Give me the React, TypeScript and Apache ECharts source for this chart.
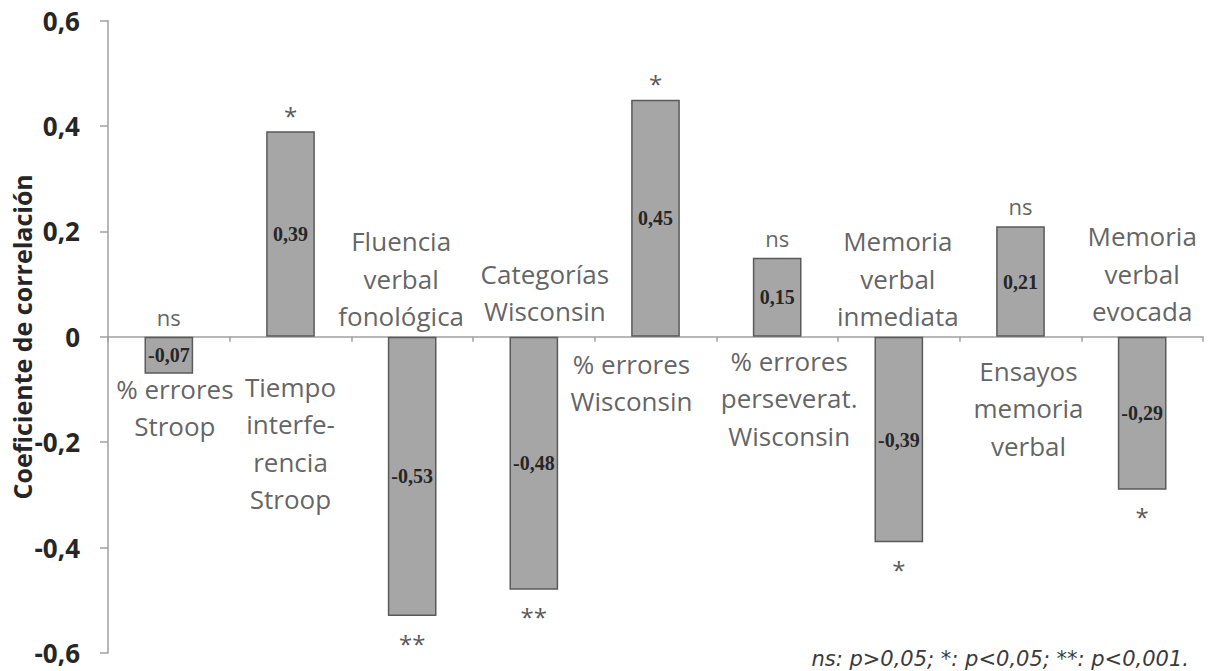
import React, { useEffect, useRef } from "react";
import * as echarts from "echarts";

const categories = [
  "% errores\nStroop",
  "Tiempo\ninterfe-\nrencia\nStroop",
  "Fluencia\nverbal\nfonológica",
  "Categorías\nWisconsin",
  "% errores\nWisconsin",
  "% errores\nperseverat.\nWisconsin",
  "Memoria\nverbal\ninmediata",
  "Ensayos\nmemoria\nverbal",
  "Memoria\nverbal\nevocada",
];
const correlations = [-0.07, 0.39, -0.53, -0.48, 0.45, 0.15, -0.39, 0.21, -0.29];
const significance = ["ns", "*", "**", "**", "*", "ns", "*", "ns", "*"];
const yTicks = [-0.6, -0.4, -0.2, 0, 0.2, 0.4, 0.6];
const footnote = "ns: p>0,05; *: p<0,05; **: p<0,001.";
const yAxisTitle = "Coeficiente de correlación";

// layout of the category captions (above / below the zero line)
const captionSide = ["below", "below", "above", "above", "below", "below", "above", "below", "above"];
const captionDistance = [33, 31, 2, 7, 8, 5, 2, 15, 7];
const captionShiftX = [6, 0, -11, 11, -24, 12, -1, 8, 0];

const fmt = (v: number) => (v === 0 ? "0" : v.toFixed(2).replace(".", ","));
const fmtTick = (v: number) => (Math.abs(v) < 1e-9 ? "0" : v.toFixed(1).replace(".", ","));

export default function App() {
  const ref = useRef<HTMLDivElement>(null);
  useEffect(() => {
    if (!ref.current) return;
    const chart = echarts.init(ref.current, null, { renderer: "svg" });
    const textColor = "#3a3a3a";
    const sans = "'Open Sans', Lato, sans-serif";

    const captionData = categories.map((c, i) => ({
      value: [i, 0],
      label: {
        show: true,
        formatter: c,
        position: captionSide[i] === "above" ? "top" : "bottom",
        distance: captionDistance[i],
        offset: [captionShiftX[i], 0],
      },
    }));

    const markerData = correlations.map((v, i) => {
      const sig = significance[i];
      const anchor = v < 0 && sig === "ns" ? 0 : v;
      const up = anchor >= 0;
      const isStar = sig !== "ns";
      return {
        value: [i, anchor],
        label: {
          show: true,
          formatter: sig,
          position: up ? "top" : "bottom",
          distance: isStar ? (up ? 4 : 15) : 9,
          fontSize: isStar ? 24 : 22,
          color: isStar ? "#2a2a2a" : textColor,
        },
      };
    });

    chart.setOption({
      animation: false,
      backgroundColor: "#ffffff",
      grid: { left: 108, right: 11, top: 20.7, bottom: 18, containLabel: false, outerBoundsMode: "none" },
      xAxis: {
        type: "category",
        data: categories,
        boundaryGap: true,
        axisLine: { show: true, onZero: true, lineStyle: { color: "#a0a0a0", width: 1.5 } },
        axisTick: { show: true, length: 5, alignWithLabel: false, lineStyle: { color: "#a0a0a0", width: 1.5 } },
        axisLabel: { show: false },
        splitLine: { show: false },
      },
      yAxis: {
        type: "value",
        min: yTicks[0],
        max: yTicks[yTicks.length - 1],
        interval: 0.2,
        name: yAxisTitle,
        nameLocation: "middle",
        nameRotate: 90,
        nameGap: 74,
        nameMoveOverlap: false,
        nameTextStyle: { fontFamily: sans, fontWeight: "bold", fontSize: 25, color: "#262626" },
        axisLine: { show: true, lineStyle: { color: "#a0a0a0", width: 1.5 } },
        axisTick: { show: true, length: 8, lineStyle: { color: "#a0a0a0", width: 1.5 } },
        splitLine: { show: false },
        axisLabel: {
          formatter: fmtTick,
          margin: 28,
          fontFamily: sans,
          fontWeight: "bold",
          fontSize: 26,
          color: "#262626",
        },
      },
      series: [
        {
          type: "bar",
          data: correlations,
          barWidth: "40%",
          itemStyle: { color: "#a6a6a6", borderColor: "#5a5a5a", borderWidth: 1.5 },
          label: {
            show: true,
            position: "inside",
            formatter: (p: any) => fmt(p.value),
            fontFamily: "'Liberation Serif', serif",
            fontWeight: "bold",
            fontSize: 20,
            color: "#262626",
          },
          z: 2,
        },
        {
          type: "scatter",
          data: captionData,
          symbolSize: 0,
          silent: true,
          label: {
            fontFamily: sans,
            fontSize: 26,
            lineHeight: 37.5,
            color: textColor,
            align: "center",
          },
          z: 3,
        },
        {
          type: "scatter",
          data: markerData,
          symbolSize: 0,
          silent: true,
          label: { fontFamily: sans, color: textColor },
          z: 3,
        },
      ],
      graphic: [
        {
          type: "text",
          right: 1214 - 1189,
          top: 648,
          style: {
            text: footnote,
            fontFamily: "'DejaVu Sans', sans-serif",
            fontStyle: "italic",
            fontSize: 21,
            fill: textColor,
          },
        },
      ],
    });
    return () => chart.dispose();
  }, []);
  return (
    <div
      ref={ref}
      style={{ position: "fixed", left: 0, top: 0, width: 1214, height: 671, background: "#fff" }}
    />
  );
}
